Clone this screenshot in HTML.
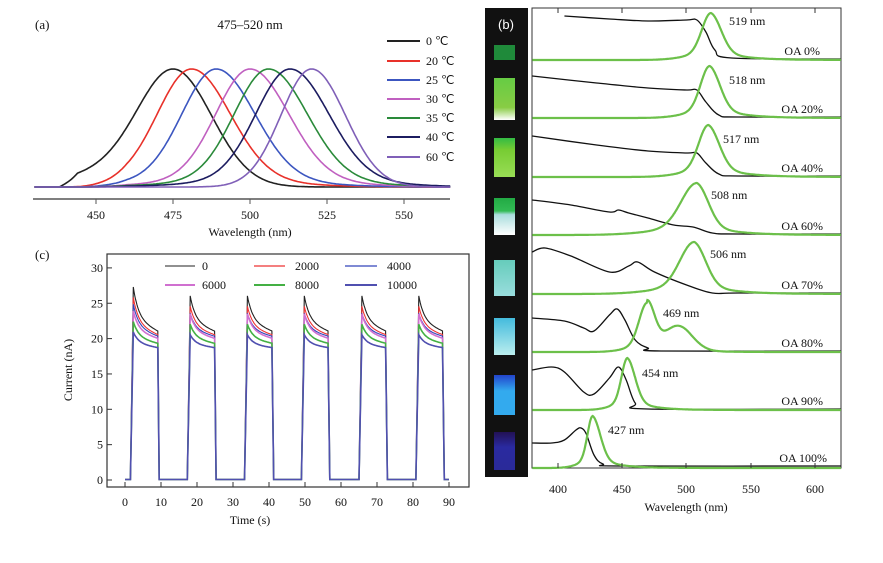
<!DOCTYPE html>
<html><head><meta charset="utf-8"><style>
html,body{margin:0;padding:0;background:#fff}
svg{display:block}
text{font-family:"Liberation Serif",serif;fill:#111}
</style></head><body>
<svg id="s" width="883" height="563" viewBox="0 0 883 563" xmlns="http://www.w3.org/2000/svg">
<rect width="883" height="563" fill="#fff"/>
<text x="35" y="29" font-size="13">(a)</text>
<text x="250" y="29" font-size="13" text-anchor="middle">475–520 nm</text>
<line x1="33" y1="199" x2="450" y2="199" stroke="#555" stroke-width="1.5"/>
<g stroke="#555" stroke-width="1"><line x1="96" y1="199" x2="96" y2="204"/><line x1="173" y1="199" x2="173" y2="204"/><line x1="250" y1="199" x2="250" y2="204"/><line x1="327" y1="199" x2="327" y2="204"/><line x1="404" y1="199" x2="404" y2="204"/></g>
<g font-size="12" text-anchor="middle"><text x="96" y="219">450</text><text x="173" y="219">475</text><text x="250" y="219">500</text><text x="327" y="219">525</text><text x="404" y="219">550</text></g>
<text x="250" y="236" font-size="12" text-anchor="middle">Wavelength (nm)</text>
<g id="acurves" fill="none" stroke-width="1.6"></g>
<g font-size="12">
<line x1="387" y1="41" x2="420" y2="41" stroke="#222" stroke-width="2"/><text x="426" y="45">0 ℃</text>
<line x1="387" y1="61" x2="420" y2="61" stroke="#e8312a" stroke-width="2"/><text x="426" y="65">20 ℃</text>
<line x1="387" y1="80" x2="420" y2="80" stroke="#3c56c0" stroke-width="2"/><text x="426" y="84">25 ℃</text>
<line x1="387" y1="99" x2="420" y2="99" stroke="#c060c0" stroke-width="2"/><text x="426" y="103">30 ℃</text>
<line x1="387" y1="118" x2="420" y2="118" stroke="#2a8a3a" stroke-width="2"/><text x="426" y="122">35 ℃</text>
<line x1="387" y1="137" x2="420" y2="137" stroke="#1c1c60" stroke-width="2"/><text x="426" y="141">40 ℃</text>
<line x1="387" y1="157" x2="420" y2="157" stroke="#8060b8" stroke-width="2"/><text x="426" y="161">60 ℃</text>
</g>
<text x="35" y="259" font-size="13">(c)</text>
<rect x="107" y="254" width="362" height="233" fill="none" stroke="#333" stroke-width="1.2"/>
<g id="cticks" stroke="#333" stroke-width="1"></g>
<g id="ctext" font-size="12"></g>
<text x="250" y="524" font-size="12" text-anchor="middle">Time (s)</text>
<text transform="translate(72,370) rotate(-90)" font-size="12" text-anchor="middle">Current (nA)</text>
<g id="ccurves" fill="none" stroke-width="1.2"></g>
<g font-size="12">
<line x1="165" y1="266" x2="195" y2="266" stroke="#222" stroke-width="1"/><text x="202" y="270">0</text>
<line x1="254" y1="266" x2="285" y2="266" stroke="#ee3333" stroke-width="1.2"/><text x="295" y="270">2000</text>
<line x1="345" y1="266" x2="377" y2="266" stroke="#3344bb" stroke-width="1.2"/><text x="387" y="270">4000</text>
<line x1="165" y1="285" x2="195" y2="285" stroke="#d070d0" stroke-width="2"/><text x="202" y="289">6000</text>
<line x1="254" y1="285" x2="285" y2="285" stroke="#44b044" stroke-width="2"/><text x="295" y="289">8000</text>
<line x1="345" y1="285" x2="377" y2="285" stroke="#5050b0" stroke-width="2"/><text x="387" y="289">10000</text>
</g>
<rect x="485" y="8" width="43" height="469" fill="#111"/>
<text x="506" y="29" font-size="13" text-anchor="middle" style="fill:#fff;font-family:'Liberation Sans',sans-serif">(b)</text>
<defs>
<linearGradient id="v1" x1="0" y1="0" x2="0" y2="1"><stop offset="0" stop-color="#66cc44"/><stop offset="0.7" stop-color="#88cc44"/><stop offset="1" stop-color="#ffffff"/></linearGradient>
<linearGradient id="v2" x1="0" y1="0" x2="0" y2="1"><stop offset="0" stop-color="#33bb44"/><stop offset="0.3" stop-color="#77cc33"/><stop offset="1" stop-color="#99dd55"/></linearGradient>
<linearGradient id="v3" x1="0" y1="0" x2="0" y2="1"><stop offset="0" stop-color="#22aa44"/><stop offset="0.35" stop-color="#33bb55"/><stop offset="0.45" stop-color="#aadddd"/><stop offset="1" stop-color="#ffffff"/></linearGradient>
<linearGradient id="v4" x1="0" y1="0" x2="0" y2="1"><stop offset="0" stop-color="#66ccbb"/><stop offset="1" stop-color="#99dddd"/></linearGradient>
<linearGradient id="v5" x1="0" y1="0" x2="0" y2="1"><stop offset="0" stop-color="#44bbdd"/><stop offset="1" stop-color="#bbeeee"/></linearGradient>
<linearGradient id="v6" x1="0" y1="0" x2="0" y2="1"><stop offset="0" stop-color="#2244cc"/><stop offset="0.4" stop-color="#33aaee"/><stop offset="1" stop-color="#33aaee"/></linearGradient>
<linearGradient id="v7" x1="0" y1="0" x2="0" y2="1"><stop offset="0" stop-color="#221155"/><stop offset="0.4" stop-color="#2a2aa0"/><stop offset="1" stop-color="#2a2a99"/></linearGradient>
</defs>
<rect x="494" y="45" width="21" height="15" fill="#1f8a3a"/>
<rect x="494" y="78" width="21" height="42" fill="url(#v1)"/>
<rect x="494" y="138" width="21" height="39" fill="url(#v2)"/>
<rect x="494" y="198" width="21" height="37" fill="url(#v3)"/>
<rect x="494" y="260" width="21" height="36" fill="url(#v4)"/>
<rect x="494" y="318" width="21" height="37" fill="url(#v5)"/>
<rect x="494" y="375" width="21" height="40" fill="url(#v6)"/>
<rect x="494" y="432" width="21" height="38" fill="url(#v7)"/>
<rect x="532" y="8" width="309" height="460" fill="none" stroke="#333" stroke-width="1"/>
<g id="bcurves" fill="none"></g>
<g stroke="#333" stroke-width="1"><line x1="558" y1="468" x2="558" y2="463"/><line x1="622" y1="468" x2="622" y2="463"/><line x1="686" y1="468" x2="686" y2="463"/><line x1="751" y1="468" x2="751" y2="463"/><line x1="815" y1="468" x2="815" y2="463"/>
<line x1="558" y1="8" x2="558" y2="13"/><line x1="622" y1="8" x2="622" y2="13"/><line x1="686" y1="8" x2="686" y2="13"/><line x1="751" y1="8" x2="751" y2="13"/><line x1="815" y1="8" x2="815" y2="13"/></g>
<g font-size="12" text-anchor="middle"><text x="558" y="493">400</text><text x="622" y="493">450</text><text x="686" y="493">500</text><text x="751" y="493">550</text><text x="815" y="493">600</text></g>
<text x="686" y="511" font-size="12" text-anchor="middle">Wavelength (nm)</text>
<g font-size="12">
<text x="729" y="25">519 nm</text><text x="729" y="84">518 nm</text><text x="723" y="143">517 nm</text><text x="711" y="199">508 nm</text><text x="710" y="258">506 nm</text><text x="663" y="317">469 nm</text><text x="642" y="377">454 nm</text><text x="608" y="434">427 nm</text>
</g>
<g font-size="12" text-anchor="end">
<text x="820" y="55">OA 0%</text><text x="823" y="113">OA 20%</text><text x="823" y="172">OA 40%</text><text x="823" y="230">OA 60%</text><text x="823" y="289">OA 70%</text><text x="823" y="347">OA 80%</text><text x="823" y="405">OA 90%</text><text x="827" y="462">OA 100%</text>
</g>
</svg>
<script>
var NS="http://www.w3.org/2000/svg";
function P(g,d,c,w){var p=document.createElementNS(NS,"path");p.setAttribute("d",d);p.setAttribute("stroke",c);if(w)p.setAttribute("stroke-width",w);document.getElementById(g).appendChild(p);}
function T(g,x,y,s,a){var t=document.createElementNS(NS,"text");t.setAttribute("x",x);t.setAttribute("y",y);t.setAttribute("text-anchor",a||"end");t.textContent=s;document.getElementById(g).appendChild(t);}
function G(x,s){return Math.exp(-x*x/(2*s*s));}
function curve(f,l0,l1,step,X,yb,h){var vals=[],m=0;for(var l=l0;l<=l1;l+=step){var v=f(l);vals.push([l,v]);if(v>m)m=v;}
var d="";vals.forEach(function(p){d+=(d?"L":"M")+X(p[0]).toFixed(1)+","+(yb-h*p[1]/m).toFixed(1);});return d;}
// panel a
var pk=[475,481,489,500,506,513,520],cols=["#222","#e8312a","#3c56c0","#c060c0","#2a8a3a","#1c1c60","#8060b8"];
function XA(l){return 96+(l-450)*3.08;}
for(var i=0;i<7;i++){(function(i){var f=function(l){var dl=l-pk[i];var v;
if(i==0){v=dl<0?(0.72*G(dl,11)+0.28*G(dl,22)):G(dl,12.5);v*=(l<438?0:Math.min(1,(l-438)/6));}
else if(i<6){v=dl<0?G(dl,11):G(dl,12.5);v+=0.07*Math.min(1,Math.max(0,(l-445)/15))*G(dl,25);}
else{v=dl<0?G(dl,10):G(dl,11);}
return v;};P("acurves",curve(f,430,565,0.5,XA,187,118),cols[i]);})(i);}
// panel c
var ct=document.getElementById("cticks");
for(var k=0;k<=6;k++){var y=480-k*5*7.07;T("ctext",103,y+4,String(k*5));var ln=document.createElementNS(NS,"line");ln.setAttribute("x1",107);ln.setAttribute("x2",112);ln.setAttribute("y1",y);ln.setAttribute("y2",y);ct.appendChild(ln);}
for(var k=0;k<=9;k++){var x=125+k*36;T("ctext",x,506,String(k*10),"middle");var ln=document.createElementNS(NS,"line");ln.setAttribute("x1",x);ln.setAttribute("x2",x);ln.setAttribute("y1",487);ln.setAttribute("y2",482);ct.appendChild(ln);}
var cc=["#222","#ee3333","#3344bb","#d070d0","#44b044","#5050b0"],pkv=[27.5,26,25,24,22.5,21],pl=[21,20.5,20.3,20,19.3,18.7];
var ons=[1.5,17.3,33.2,49,65,80.8],offs=[9.2,25,41,56.6,72.6,88.4];
for(var i=0;i<6;i++){var d="M125,479.5";for(var c=0;c<6;c++){var a=ons[c],b=offs[c];d+="L"+(125+a*3.6)+",479.5";var pv=pkv[i]-(c>0?1.3:0)*(i<3?1:0.3);
for(var t=a+0.8;t<=b;t+=0.2){var v=pl[i]+(pv-pl[i])*Math.exp(-(t-a-0.8)/1.5)*0.7+(pv-pl[i])*0.3*(1-(t-a)/(b-a));d+="L"+(125+t*3.6).toFixed(1)+","+(480-v*7.07).toFixed(1);}
d+="L"+(125+(b+0.3)*3.6).toFixed(1)+",479.5";}d+="L"+(125+90*3.6)+",479.5";P("ccurves",d,cc[i],i>=3?1.6:1.1);}
// panel b
function X(l){return 558+(l-400)*1.286;}
var bot=[60,118,177,235,294,352,410,468];
var pls=[[519,7,8],[518,7,8],[517,7.5,8.5],[508,12,9],[506,11,9],[469,6,6],[454,4.5,6],[427,4,6]];
var ab=[
[[405,16],[440,19],[470,21],[500,20],[508,20],[515,32],[522,50],[535,58],[620,59]],
[[380,76],[430,83],[470,88],[500,90],[508,90],[515,102],[525,115],[540,117],[620,117]],
[[380,136],[430,145],[470,151],[500,153],[508,153],[515,163],[525,174],[540,176],[620,176]],
[[380,200],[410,205],[440,212],[447,210],[455,213],[470,218],[490,225],[505,227],[520,233],[540,234],[620,234]],
[[380,252],[390,248],[410,256],[440,272],[455,266],[462,262],[475,272],[500,285],[520,293],[540,293],[620,293]],
[[380,318],[405,321],[420,328],[428,331],[440,315],[446,309],[452,320],[460,340],[470,348],[480,351],[620,351]],
[[380,370],[395,367],[405,372],[420,392],[428,394],[440,378],[447,367],[453,380],[460,403],[470,409],[620,409]],
[[380,443],[395,443],[405,440],[414,430],[418,428],[422,434],[428,455],[435,464],[450,466],[620,466]]];
for(var i=0;i<8;i++){(function(i){var q=pls[i],yb=bot[i],h=(i==0?47:52);
var f=function(l){var dl=l-q[0];var v;
if(dl<0)v=0.85*G(dl,q[1])+0.15*G(dl,q[1]*2.5);else v=0.75*G(dl,q[2])+0.25*Math.exp(-dl/(q[2]*2.5));
if(i==5){v=(dl<0?(0.85*G(dl,6)+0.15*G(dl,14)):G(dl,6))+0.5*G(l-493,11)+0.06*Math.exp(-Math.max(0,l-500)/15)*(l>469?1:0);}
return v;};
var d=curve(f,380,620,0.5,X,yb,h);
var pts=ab[i],e="M"+X(pts[0][0])+","+pts[0][1];
for(var j=0;j<pts.length-1;j++){var p0=pts[Math.max(j-1,0)],p1=pts[j],p2=pts[j+1],p3=pts[Math.min(j+2,pts.length-1)];
var x1=X(p1[0])+(X(p2[0])-X(p0[0]))/6,y1=p1[1]+(p2[1]-p0[1])/6,x2=X(p2[0])-(X(p3[0])-X(p1[0]))/6,y2=p2[1]-(p3[1]-p1[1])/6;
e+="C"+x1.toFixed(1)+","+y1.toFixed(1)+" "+x2.toFixed(1)+","+y2.toFixed(1)+" "+X(p2[0]).toFixed(1)+","+p2[1];}
P("bcurves",e,"#111",1.3);P("bcurves",d,"#6cc04a",2.2);})(i);}
</script>
</body></html>
